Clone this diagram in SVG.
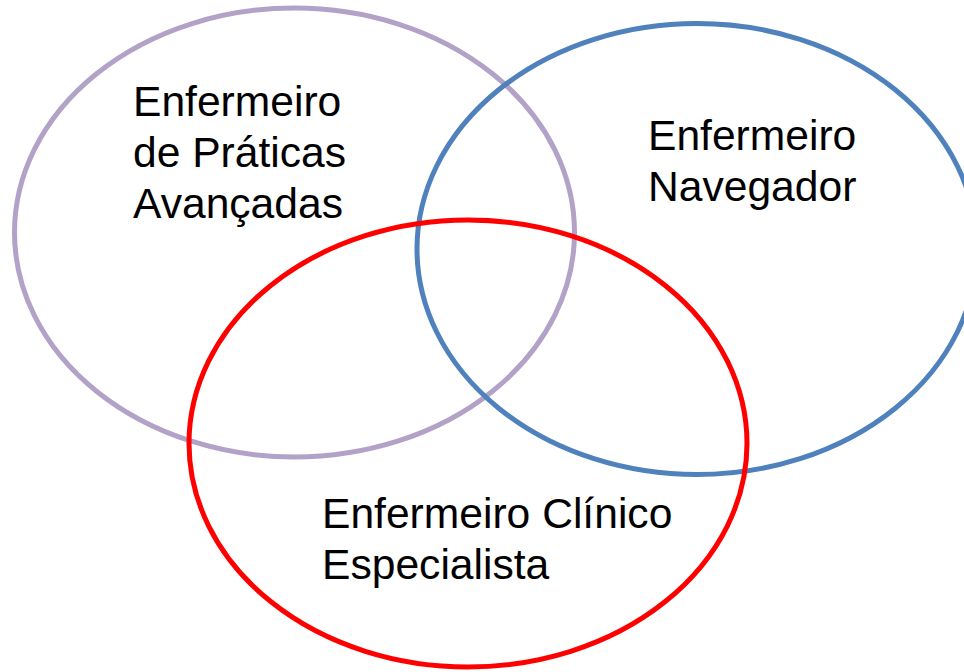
<svg xmlns="http://www.w3.org/2000/svg" width="964" height="672" viewBox="0 0 964 672">
<style>
.e{fill:none;stroke-width:5}
.t{font-family:"Liberation Sans",Arial,sans-serif;font-size:42.6px;fill:#000}
</style>
<rect width="964" height="672" fill="#fff"/>
<g id="praticas-avancadas">
<ellipse class="e" cx="294.5" cy="232.5" rx="280" ry="224.5" stroke="#B3A2C7"/>
<text class="t" x="133" y="116">Enfermeiro</text>
<text class="t" x="133" y="167">de Práticas</text>
<text class="t" x="133" y="218">Avançadas</text>
</g>
<g id="navegador">
<ellipse class="e" cx="697" cy="249" rx="280" ry="225.5" stroke="#4F81BD"/>
<text class="t" x="648" y="150">Enfermeiro</text>
<text class="t" x="648" y="201">Navegador</text>
</g>
<g id="clinico-especialista">
<ellipse class="e" cx="468" cy="443.5" rx="279" ry="223.5" stroke="#FF0000"/>
<text class="t" x="322" y="528">Enfermeiro Clínico</text>
<text class="t" x="322" y="579">Especialista</text>
</g>
<g id="connectors"/>
</svg>
